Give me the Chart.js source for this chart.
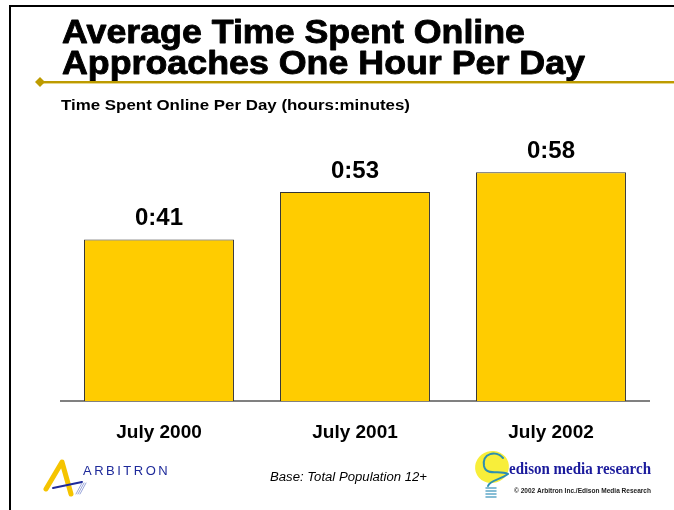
<!DOCTYPE html>
<html>
<head>
    <title>Average Time Spent Online</title>
    <script src="https://cdn.jsdelivr.net/npm/chart.js@4"></script>
    <style>
        body { margin: 0; background: #fff; }
        #wrap { position: relative; width: 674px; height: 510px; }
        canvas { display: block; }
    </style>
</head>
<body>
    <div id="wrap"><canvas id="myChart" width="674" height="510"></canvas></div>

    <script>
        // data
        const categories = ['July 2000', 'July 2001', 'July 2002'];
        const minutesOnline = [41, 53, 58];
        const titleLines = ['Average Time Spent Online', 'Approaches One Hour Per Day'];
        const subtitle = 'Time Spent Online Per Day (hours:minutes)';
        const baseNote = 'Base: Total Population 12+';
        const copyright = '\u00a9 2002 Arbitron Inc./Edison Media Research';

        function fmt(m) {
            return Math.floor(m / 60) + ':' + String(m % 60).padStart(2, '0');
        }

        // text drawn to an exact width (the slide font is wider than Liberation Sans)
        function fitText(ctx, txt, x, y, w, stroke) {
            const mw = ctx.measureText(txt).width;
            ctx.save();
            ctx.translate(x, y);
            ctx.scale(w / mw, 1);
            ctx.fillText(txt, 0, 0);
            if (stroke) ctx.strokeText(txt, 0, 0);
            ctx.restore();
        }

        const slidePlugin = {
            id: 'slide',
            beforeDraw(chart) {
                const ctx = chart.ctx;
                ctx.save();
                ctx.fillStyle = '#fff';
                ctx.fillRect(0, 0, chart.width, chart.height);

                // frame
                ctx.fillStyle = '#000';
                ctx.fillRect(9, 5, 674, 2);
                ctx.fillRect(9, 5, 2, 510);

                // title
                ctx.textBaseline = 'alphabetic';
                ctx.textAlign = 'left';
                ctx.font = 'bold 34px "Liberation Sans", Arial, sans-serif';
                ctx.fillStyle = '#000';
                ctx.strokeStyle = '#000';
                ctx.lineWidth = 0.9;
                ctx.lineJoin = 'round';
                fitText(ctx, titleLines[0], 62, 43, 463, true);
                fitText(ctx, titleLines[1], 62, 74, 523, true);

                // gold rule + diamond
                ctx.fillStyle = '#BD9B00';
                ctx.fillRect(40, 81, 634, 2);
                ctx.fillStyle = '#E6D68A';
                ctx.fillRect(40, 83, 634, 1);
                ctx.fillStyle = '#BD9B00';
                ctx.beginPath();
                ctx.moveTo(35, 82); ctx.lineTo(40, 77); ctx.lineTo(45, 82); ctx.lineTo(40, 87);
                ctx.closePath();
                ctx.fill();

                // subtitle
                ctx.fillStyle = '#000';
                ctx.font = 'bold 14.5px "Liberation Sans", Arial, sans-serif';
                fitText(ctx, subtitle, 61, 110, 349);

                // Arbitron logo
                ctx.lineCap = 'round';
                ctx.lineJoin = 'round';
                ctx.strokeStyle = '#F5C400';
                ctx.lineWidth = 5;
                ctx.beginPath();
                ctx.moveTo(46, 489); ctx.lineTo(62, 462); ctx.lineTo(71, 494);
                ctx.stroke();
                ctx.strokeStyle = '#1E2A9A';
                ctx.lineWidth = 2;
                ctx.beginPath();
                ctx.moveTo(53, 488); ctx.lineTo(82, 482);
                ctx.stroke();
                ctx.strokeStyle = '#9AA6DA';
                ctx.lineWidth = 1;
                for (let i = 0; i < 3; i++) {
                    ctx.beginPath();
                    ctx.moveTo(76 + i * 2, 494); ctx.lineTo(82 + i * 2, 483);
                    ctx.stroke();
                }
                ctx.fillStyle = '#1E2A9A';
                ctx.font = '13px "Liberation Sans", Arial, sans-serif';
                ctx.letterSpacing = '2.5px';
                ctx.fillText('ARBITRON', 83, 475);
                ctx.letterSpacing = '0px';

                // base note
                ctx.fillStyle = '#000';
                ctx.font = 'italic 12.5px "Liberation Sans", Arial, sans-serif';
                fitText(ctx, baseNote, 270, 481, 157);

                // Edison logo: yellow bulb
                ctx.fillStyle = '#F8EE3A';
                ctx.beginPath();
                ctx.ellipse(492, 467, 17, 16, -0.3, 0, Math.PI * 2);
                ctx.fill();
                ctx.strokeStyle = '#2E8FB0';
                ctx.lineWidth = 2;
                ctx.beginPath();
                ctx.moveTo(503, 458);
                ctx.bezierCurveTo(496, 450, 482, 453, 484, 466);
                ctx.bezierCurveTo(486, 476, 500, 470, 508, 474);
                ctx.bezierCurveTo(500, 480, 490, 480, 488, 486);
                ctx.stroke();
                ctx.strokeStyle = '#5FA8C8';
                ctx.lineWidth = 1.5;
                for (let i = 0; i < 4; i++) {
                    ctx.beginPath();
                    ctx.moveTo(486, 488 + i * 3); ctx.lineTo(496, 488 + i * 3);
                    ctx.stroke();
                }

                ctx.fillStyle = '#1A1A9C';
                ctx.font = 'bold 16.5px "Liberation Serif", "Times New Roman", serif';
                fitText(ctx, 'edison media research', 509, 474, 142);
                ctx.fillStyle = '#222';
                ctx.font = 'bold 6.5px "Liberation Sans", Arial, sans-serif';
                fitText(ctx, copyright, 514, 493, 137);
                ctx.restore();
            },
            afterDatasetsDraw(chart) {
                const ctx = chart.ctx;
                const meta = chart.getDatasetMeta(0);
                ctx.save();
                ctx.fillStyle = '#000';
                ctx.font = 'bold 24px "Liberation Sans", Arial, sans-serif';
                ctx.textAlign = 'center';
                ctx.textBaseline = 'alphabetic';
                meta.data.forEach((bar, i) => {
                    ctx.fillText(fmt(minutesOnline[i]), bar.x, bar.y - 14);
                });
                ctx.restore();
            }
        };

        const ctx = document.getElementById('myChart').getContext('2d');
        new Chart(ctx, {
            type: 'bar',
            data: {
                labels: categories,
                datasets: [{
                    data: minutesOnline,
                    backgroundColor: '#FFCC00',
                    borderColor: '#333333',
                    borderWidth: 1,
                    categoryPercentage: 1,
                    barPercentage: 0.765
                }]
            },
            options: {
                responsive: false,
                animation: false,
                layout: {
                    padding: { left: 61, right: 25, top: 125, bottom: 46 }
                },
                plugins: {
                    legend: { display: false },
                    tooltip: { enabled: false }
                },
                scales: {
                    x: {
                        grid: { display: false, drawTicks: false },
                        border: { display: true, color: '#808080', width: 2 },
                        ticks: {
                            color: '#000',
                            padding: 20,
                            font: { family: '"Liberation Sans", Arial, sans-serif', size: 19, weight: 'bold' }
                        }
                    },
                    y: {
                        display: false,
                        min: 0,
                        max: 70
                    }
                }
            },
            plugins: [slidePlugin]
        });
    </script>
</body>
</html>
